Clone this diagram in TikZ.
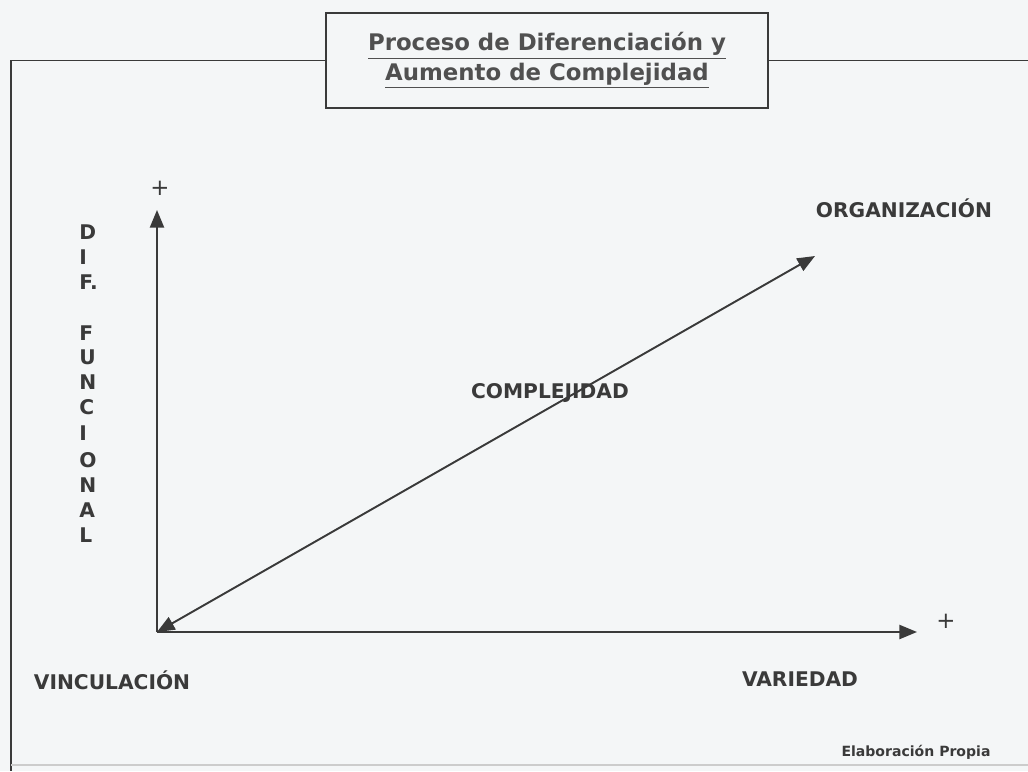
\documentclass[tikz,border=0pt]{standalone}
\usepackage{fontspec}
\setmainfont{DejaVu Sans}
\usetikzlibrary{arrows.meta}
\definecolor{paper}{HTML}{F4F6F7}
\definecolor{ink}{HTML}{3A3A3A}
\definecolor{titleink}{HTML}{505050}
\tikzset{
  axisline/.style={ink, line width=1.1pt, -{Triangle[length=10pt,width=8pt]}},
  lbl/.style={text=ink, font=\bfseries\fontsize{11.5}{13}\selectfont, inner sep=0pt},
  plus/.style={text=ink, font=\fontsize{13}{13}\selectfont, inner sep=0pt}
}
\newcommand{\uline}[1]{\underline{\smash{#1}\vphantom{p}}}

\begin{document}
\begin{tikzpicture}[x=0.02cm, y=-0.02cm]
\fill[paper] (0,0) rectangle (1028,771);
\useasboundingbox (0,0) rectangle (1028,771);

\node[draw=ink, line width=1pt, minimum width=8.84cm, minimum height=1.9cm, align=center, text=titleink,
  font=\bfseries\fontsize{13}{17}\selectfont] (title) at (547,60.5)
  {\underline{Proceso de Diferenciación y}\\\underline{Aumento de Complejidad}};
\draw[ink, line width=1.1pt] (title.west) -- (11,60.5) -- (11,771);
\draw[ink, line width=1.1pt] (title.east) -- (1028,60.5);
\draw[gray!40, line width=0.8pt] (11,765) -- (1028,765);

\coordinate (origin) at (157,632);
\coordinate (ytip) at (157,210);
\coordinate (xtip) at (917,632);
\coordinate (dtip) at (815,256);

\draw[axisline] (origin) -- (ytip);
\draw[axisline] (origin) -- (xtip);
\draw[axisline, {Triangle[length=10pt,width=8pt]}-{Triangle[length=10pt,width=8pt]}] (origin) -- (dtip);

\node[plus] (yplus) at (160,188) {+};
\node[plus] (xplus) at (946,621) {+};

\foreach \l/\y [count=\i] in {D/232, I/257, F./282, F/333, U/357, N/382, C/407, I/433, O/460, N/485, A/510, L/535}{
	\node[lbl, anchor=west] (dif\i) at (79,\y) {\l};
}

\node[lbl] (org) at (904,208) {ORGANIZACIÓN};
\node[lbl] (comp) at (550,393) {COMPLEJIDAD};
\node[lbl] (vinc) at (112,680) {VINCULACIÓN};
\node[lbl] (vari) at (800,679) {VARIEDAD};
\node[lbl, font=\bfseries\fontsize{8}{10}\selectfont] (fuente) at (916,752) {Elaboración Propia};
\end{tikzpicture}
\end{document}
